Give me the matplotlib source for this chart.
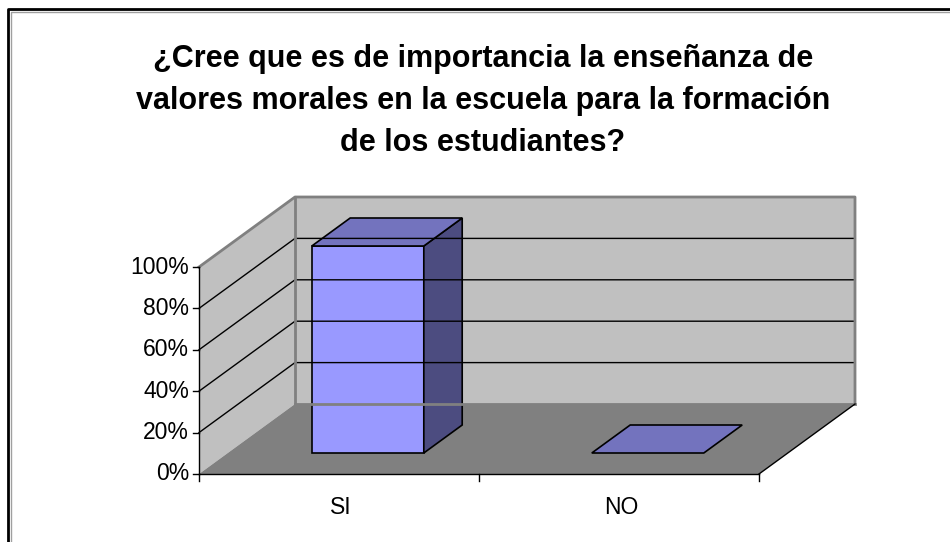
import numpy as np
import matplotlib
matplotlib.use('Agg')
import matplotlib.pyplot as plt
from matplotlib.patches import Polygon

plt.rcParams['font.family'] = ['Liberation Sans', 'DejaVu Sans']

# data
categories = ['SI', 'NO']
values = [1.0, 0.0]
yticks = [0.0, 0.2, 0.4, 0.6, 0.8, 1.0]
ytick_labels = ['0%', '20%', '40%', '60%', '80%', '100%']
title = ('¿Cree que es de importancia la enseñanza de\n'
         'valores morales en la escuela para la formación\n'
         'de los estudiantes?')

# fake 3d geometry (pixels)
X0, Y0 = 199, 474
CAT_W = 280
VAL_H = 207
DX, DY = 96, -70
BAR_W = 0.4
D_FRONT, D_BACK = 0.3, 0.7

WALL = '#c0c0c0'
FLOOR = '#808080'
EDGE = '#808080'
BAR_FRONT = '#9999ff'
BAR_TOP = '#7373be'
BAR_SIDE = '#4c4c80'


def proj(xc, v, d):
    return (X0 + CAT_W*xc + DX*d, Y0 - VAL_H*v + DY*d)


n_cat = len(categories)
vmax = yticks[-1]

fig = plt.figure(figsize=(9.5, 5.42), dpi=100)
ax = fig.add_axes([0, 0, 1, 1])
ax.set_xlim(0, 950)
ax.set_ylim(542, 0)
ax.axis('off')

# chart border
ax.plot([8, 8, 960], [560, 9, 9], color='black', lw=2, solid_capstyle='butt')
ax.plot([10.5, 10.5, 960], [560, 11.5, 11.5], color='#a0a0a0', lw=1)

# walls and floor
left_wall = [proj(0, 0, 0), proj(0, 0, 1), proj(0, vmax, 1), proj(0, vmax, 0)]
back_wall = [proj(0, 0, 1), proj(n_cat, 0, 1), proj(n_cat, vmax, 1), proj(0, vmax, 1)]
floor = [proj(0, 0, 0), proj(n_cat, 0, 0), proj(n_cat, 0, 1), proj(0, 0, 1)]
ax.add_patch(Polygon(left_wall, closed=True, fc=WALL, ec='none'))
ax.add_patch(Polygon(back_wall, closed=True, fc=WALL, ec='none'))
ax.add_patch(Polygon(floor, closed=True, fc=FLOOR, ec='none'))

# gridlines
for v in yticks[1:-1]:
    p0, p1, p2 = proj(0, v, 0), proj(0, v, 1), proj(n_cat, v, 1)
    ax.plot([p0[0], p1[0], p2[0]], [p0[1], p1[1], p2[1]], color='black', lw=1)

# wall edges
for pts in [[proj(0, vmax, 0), proj(0, vmax, 1), proj(n_cat, vmax, 1), proj(n_cat, 0, 1)],
            [proj(0, 0, 1), proj(0, vmax, 1)],
            [proj(0, 0, 1), proj(n_cat, 0, 1)]]:
    xs, ys = zip(*pts)
    ax.plot(xs, ys, color=EDGE, lw=2)

# floor right edge
p0, p1 = proj(n_cat, 0, 0), proj(n_cat, 0, 1)
ax.plot([p0[0], p1[0]], [p0[1], p1[1]], color='black', lw=1)

# axes lines and ticks
p0, p1 = proj(0, 0, 0), proj(0, vmax, 0)
ax.plot([p0[0], p1[0]], [p0[1], p1[1]], color='black', lw=1)
p1 = proj(n_cat, 0, 0)
ax.plot([p0[0], p1[0]], [p0[1], p1[1]], color='black', lw=1)
for v, lab in zip(yticks, ytick_labels):
    x, y = proj(0, v, 0)
    ax.plot([x - 6, x], [y, y], color='black', lw=1)
    ax.text(x - 10, y, lab, ha='right', va='center', fontsize=16.5)
for i in range(n_cat + 1):
    x, y = proj(i, 0, 0)
    ax.plot([x, x], [y, y + 7], color='black', lw=1)
for i, lab in enumerate(categories):
    x, y = proj(i + 0.5, 0, 0)
    ax.text(x + 2, y + 34, lab, ha='center', va='center', fontsize=16.5)

# bars
for i, v in enumerate(values):
    xa, xb = i + 0.5 - BAR_W/2, i + 0.5 + BAR_W/2
    front = [proj(xa, 0, D_FRONT), proj(xb, 0, D_FRONT), proj(xb, v, D_FRONT), proj(xa, v, D_FRONT)]
    side = [proj(xb, 0, D_FRONT), proj(xb, 0, D_BACK), proj(xb, v, D_BACK), proj(xb, v, D_FRONT)]
    top = [proj(xa, v, D_FRONT), proj(xb, v, D_FRONT), proj(xb, v, D_BACK), proj(xa, v, D_BACK)]
    if v > 0:
        ax.add_patch(Polygon(front, closed=True, fc=BAR_FRONT, ec='black', lw=1.2, joinstyle='miter'))
        ax.add_patch(Polygon(side, closed=True, fc=BAR_SIDE, ec='black', lw=1.2, joinstyle='miter'))
    ax.add_patch(Polygon(top, closed=True, fc=BAR_TOP, ec='black', lw=1.2, joinstyle='miter'))

ax.text(483, 101, title, ha='center', va='center', fontsize=22, fontweight='bold',
        linespacing=1.52)

fig.savefig('out.png', dpi=100)
